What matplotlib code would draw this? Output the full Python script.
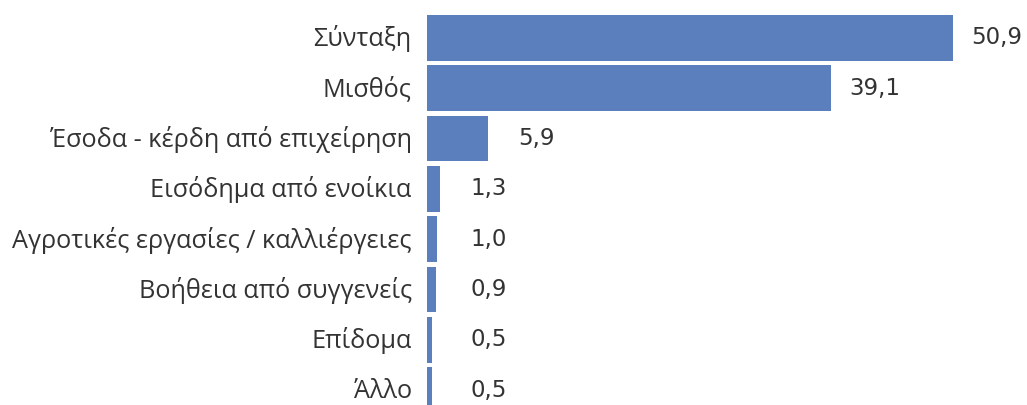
import matplotlib.pyplot as plt
from matplotlib.transforms import ScaledTranslation

categories = [
    "Σύνταξη",
    "Μισθός",
    "Έσοδα - κέρδη από επιχείρηση",
    "Εισόδημα από ενοίκια",
    "Αγροτικές εργασίες / καλλιέργειες",
    "Βοήθεια από συγγενείς",
    "Επίδομα",
    "Άλλο",
]
values = [50.9, 39.1, 5.9, 1.3, 1.0, 0.9, 0.5, 0.5]

bar_color = "#5a7fbc"
text_color = "#333333"

fig = plt.figure(figsize=(10.27, 4.05), dpi=100)
ax = fig.add_axes([427 / 1027, 0, 1 - 427 / 1027, 1])

pos = list(range(len(categories)))
ax.barh(pos, values, height=0.91, color=bar_color)

ax.set_xlim(0, 58.1)
ax.set_ylim(7.296, -0.755)

ax.set_yticks(pos)
ax.set_yticklabels(categories, fontfamily="Open Sans", fontsize=18.2, color=text_color)
ax.tick_params(axis="y", length=0, pad=11)
# nudge category labels up a little so they sit centred on the bars
nudge = ScaledTranslation(0, 2 / 100, fig.dpi_scale_trans)
for lbl in ax.get_yticklabels():
    lbl.set_transform(lbl.get_transform() + nudge)
ax.set_xticks([])
for s in ax.spines.values():
    s.set_visible(False)

# value labels; small bars share a common label column
for p, v in zip(pos, values):
    gap = 19 if v > 20 else 30
    ax.annotate(f"{v:.1f}".replace(".", ","), (max(v, 1.3), p), xytext=(gap, 0),
                textcoords="offset pixels", va="center", ha="left",
                fontsize=16.5, color=text_color, fontfamily="DejaVu Sans")

fig.savefig("out.png", dpi=100)
